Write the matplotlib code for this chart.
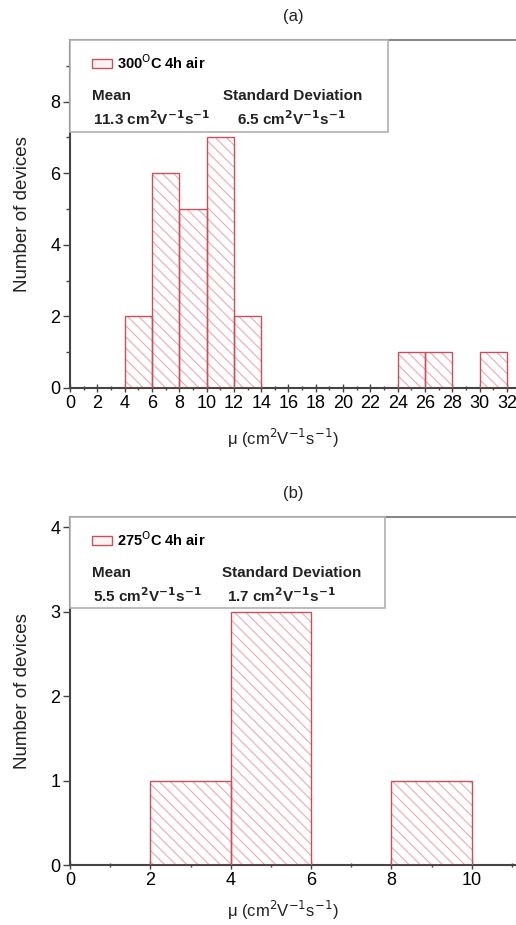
import numpy as np
import matplotlib
matplotlib.use("Agg")
import matplotlib.pyplot as plt
from matplotlib.patches import Rectangle, Patch
from matplotlib.ticker import MultipleLocator

plt.rcParams['font.family'] = ['Liberation Sans', 'DejaVu Sans']
plt.rcParams['hatch.linewidth'] = 0.8

# panel (a): 300 C anneal, 2 cm2/Vs bins
edges_a = [4, 6, 8, 10, 12, 24, 26, 30]
counts_a = [2, 6, 5, 7, 2, 1, 1, 1]
# panel (b): 275 C anneal
edges_b = [2, 4, 8]
counts_b = [1, 3, 1]
bin_w = 2

labels = ["300$^{\\mathrm{O}}$C 4h air", "275$^{\\mathrm{O}}$C 4h air"]
means = ["11.3", "5.5"]
sds = ["6.5", "1.7"]
unit = " cm$^{\\mathbf{2}}$V$^{\\mathbf{-1}}$s$^{\\mathbf{-1}}$"

edge_c = '#c8505c'
hatch_c = '#eeaab2'

fig = plt.figure(figsize=(5.16, 9.25), dpi=100)
ax_a = fig.add_axes([70/516, 1-388/925, 446/516, 348/925])
ax_b = fig.add_axes([70/516, 1-865/925, 446/516, 348/925])

def draw(ax, edges, counts, lab, mean, sd, xmax, ymax, box_w, box_h, sd_x, title):
    # hatched fill first, then the outlines on top
    ax.bar(edges, counts, width=bin_w, align='edge', color='white',
           edgecolor=hatch_c, hatch='\\\\\\', linewidth=0, zorder=2)
    ax.bar(edges, counts, width=bin_w, align='edge', fill=False,
           edgecolor=edge_c, linewidth=1.0, zorder=3)
    ax.set_xlim(0, xmax)
    ax.set_ylim(0, ymax)
    for s in ['left', 'bottom']:
        ax.spines[s].set_color('#444444')
        ax.spines[s].set_linewidth(1.5)
    ax.spines['top'].set_color('#888888')
    ax.spines['top'].set_linewidth(1.5)
    ax.spines['right'].set_visible(False)
    ax.tick_params(axis='x', which='major', direction='inout', length=6, width=1,
                   color='#444444', labelsize=13, pad=2)
    ax.tick_params(axis='x', which='minor', direction='inout', length=3, width=1, color='#444444')
    ax.tick_params(axis='y', which='major', direction='out', length=5, width=1,
                   color='#444444', labelsize=13, pad=2)
    ax.tick_params(axis='y', which='minor', direction='out', length=3, width=1, color='#444444')
    ax.set_ylabel("Number of devices", fontsize=13.5, color='#222222')
    ax.yaxis.set_label_coords(-0.088, 0.5)
    ax.set_xlabel("\u03bc (cm$^{2}$V$^{-1}$s$^{-1}$)", fontsize=12, color='#222222')
    ax.set_title(title, fontsize=12, pad=14, color='#222222')

    # info box
    ax.add_patch(Rectangle((0, 1 - box_h), box_w, box_h, transform=ax.transAxes,
                           facecolor='white', edgecolor='#b0b0b0', linewidth=1.2,
                           zorder=5, clip_on=False))
    h = Patch(facecolor='#fff4f5', edgecolor=edge_c, linewidth=1)
    leg = ax.legend([h], [lab], loc='upper left', bbox_to_anchor=(0.02, 1.0),
                    frameon=False, handlelength=1.4, handleheight=0.6,
                    handletextpad=0.3, prop={'weight': 'bold', 'size': 10.5})
    leg.set_zorder(6)
    ax.text(0.049, 0.84, "Mean", transform=ax.transAxes, fontsize=11,
            fontweight='bold', va='center', zorder=6, color='#222222')
    ax.text(sd_x[0], 0.84, "Standard Deviation", transform=ax.transAxes, fontsize=11,
            fontweight='bold', va='center', zorder=6, color='#222222')
    ax.text(0.051, 0.775, mean + unit, transform=ax.transAxes, fontsize=11,
            fontweight='bold', va='center', zorder=6, color='#222222')
    ax.text(sd_x[1], 0.775, sd + unit, transform=ax.transAxes, fontsize=11,
            fontweight='bold', va='center', zorder=6, color='#222222')

draw(ax_a, edges_a, counts_a, labels[0], means[0], sds[0], 32.66, 9.72,
     0.713, 0.264, (0.343, 0.374), "(a)")
ax_a.xaxis.set_major_locator(MultipleLocator(2))
ax_a.xaxis.set_minor_locator(MultipleLocator(1))
ax_a.yaxis.set_major_locator(MultipleLocator(2))
ax_a.yaxis.set_minor_locator(MultipleLocator(1))
ax_a.xaxis.set_label_coords(0.478, -0.113)

draw(ax_b, edges_b, counts_b, labels[1], means[1], sds[1], 11.1, 4.12,
     0.706, 0.262, (0.341, 0.352), "(b)")
ax_b.xaxis.set_major_locator(MultipleLocator(2))
ax_b.xaxis.set_minor_locator(MultipleLocator(1))
ax_b.yaxis.set_major_locator(MultipleLocator(1))
ax_b.xaxis.set_label_coords(0.478, -0.098)

fig.savefig("out.png", dpi=100)
